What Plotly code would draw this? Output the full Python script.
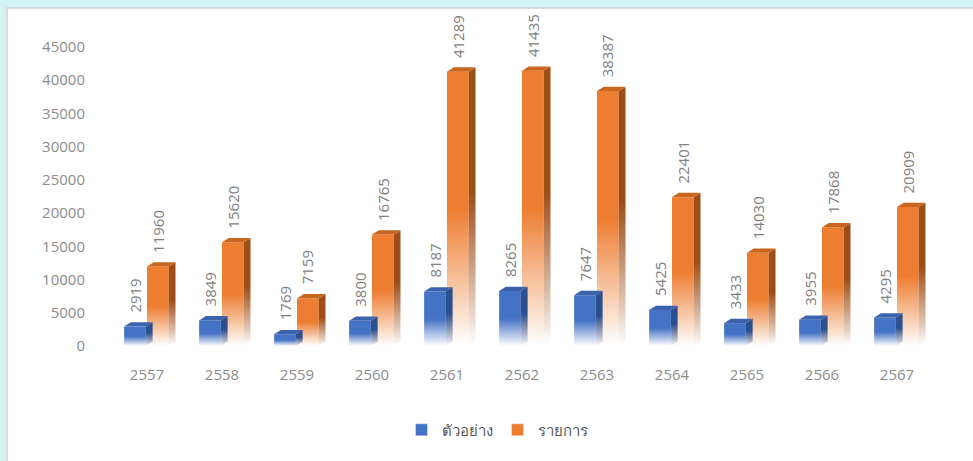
import plotly.graph_objects as go

# Yearly counts (Buddhist era years)
years = ["2557", "2558", "2559", "2560", "2561", "2562", "2563", "2564", "2565", "2566", "2567"]
samples = [2919, 3849, 1769, 3800, 8187, 8265, 7647, 5425, 3433, 3955, 4295]
items = [11960, 15620, 7159, 16765, 41289, 41435, 38387, 22401, 14030, 17868, 20909]
series_names = ["ตัวอย่าง", "รายการ"]
y_ticks = [0, 5000, 10000, 15000, 20000, 25000, 30000, 35000, 40000, 45000]

# pseudo-3D column geometry (category units / value units)
BAR_W = 0.29
DEPTH_X = 0.09
DEPTH_Y = 650

styles = {
    "ตัวอย่าง": dict(offset=-0.305, rgb=(68, 114, 196), side="#2c4f8f", top="#3a62ad"),
    "รายการ": dict(offset=0.0, rgb=(237, 125, 49), side="#9e4d17", top="#c9651f"),
}

W, H = 973, 461
L, R, T, B = 100, 40, 14, 115
PW, PH = W - L - R, H - T - B
X_RANGE = [-0.6267, -0.6267 + PW / 75.0]
Y_RANGE = [0, PH / 0.006644 * 1.0]


def fade_scale(rgb, full_at=0.5):
    r, g, b = rgb
    return [
        [0.0, f"rgba({r},{g},{b},0.0)"],
        [0.15, f"rgba({r},{g},{b},0.3)"],
        [full_at, f"rgba({r},{g},{b},1)"],
        [1.0, f"rgba({r},{g},{b},1)"],
    ]


def dark_scale(hex_color):
    h = hex_color.lstrip("#")
    r, g, b = int(h[0:2], 16), int(h[2:4], 16), int(h[4:6], 16)
    return fade_scale((r, g, b), 0.55)


fig = go.Figure()

annotations = []
for name, values in [("รายการ", items), ("ตัวอย่าง", samples)]:
    st = styles[name]
    for i, v in enumerate(values):
        x0 = i + st["offset"]
        x1 = x0 + BAR_W
        # front face
        fig.add_trace(go.Scatter(
            x=[x0, x1, x1, x0, x0], y=[0, 0, v, v, 0],
            mode="lines", line=dict(width=0), fill="toself",
            fillgradient=dict(type="vertical", colorscale=fade_scale(st["rgb"])),
            hoverinfo="skip", showlegend=False,
        ))
        # side face
        fig.add_trace(go.Scatter(
            x=[x1, x1 + DEPTH_X, x1 + DEPTH_X, x1, x1],
            y=[0, DEPTH_Y, v + DEPTH_Y, v, 0],
            mode="lines", line=dict(width=0), fill="toself",
            fillgradient=dict(type="vertical", colorscale=dark_scale(st["side"])),
            hoverinfo="skip", showlegend=False,
        ))
        # top face
        fig.add_trace(go.Scatter(
            x=[x0, x0 + DEPTH_X, x1 + DEPTH_X, x1, x0],
            y=[v, v + DEPTH_Y, v + DEPTH_Y, v, v],
            mode="lines", line=dict(width=0), fill="toself", fillcolor=st["top"],
            hoverinfo="skip", showlegend=False,
        ))
        annotations.append(dict(
            x=(x0 + x1) / 2, y=v, xref="x", yref="y",
            text=str(v), textangle=-90, showarrow=False,
            xanchor="center", yanchor="bottom", yshift=12,
            font=dict(family="Open Sans", size=15, color="#7f7f7f"),
        ))

# legend entries
for name in series_names:
    r, g, b = styles[name]["rgb"]
    fig.add_trace(go.Bar(x=[None], y=[None], name=name,
                         marker=dict(color=f"rgb({r},{g},{b})")))

def px_x(p):
    return (p - L) / PW


def px_y(p):
    return (H - B - p) / PH


shapes = [dict(
    type="rect", xref="paper", yref="paper", layer="below",
    x0=px_x(7), x1=px_x(W + 10), y0=px_y(H + 10), y1=px_y(8),
    fillcolor="white", line=dict(color="#d2d2d2", width=1.5),
)]

fig.update_layout(
    width=W, height=H,
    margin=dict(l=L, r=R, t=T, b=B),
    paper_bgcolor="#d3f3f5",
    plot_bgcolor="rgba(0,0,0,0)",
    shapes=shapes,
    annotations=annotations,
    showlegend=True,
    legend=dict(
        orientation="h", x=px_x(497), y=px_y(430),
        xanchor="center", yanchor="middle",
        font=dict(family="Open Sans, Noto Sans, sans-serif", size=15, color="#595959"),
        bgcolor="rgba(0,0,0,0)", itemwidth=30,
    ),
    xaxis=dict(
        range=X_RANGE, tickmode="array", tickvals=list(range(len(years))),
        ticktext=years, showgrid=False, zeroline=False, showline=False,
        ticks="", ticklabelstandoff=18,
        tickfont=dict(family="Open Sans", size=15, color="#8c8c8c"),
    ),
    yaxis=dict(
        range=Y_RANGE, tickmode="array", tickvals=y_ticks,
        ticktext=[str(t) for t in y_ticks], showgrid=False, zeroline=False,
        showline=False, ticks="", ticklabelstandoff=14,
        tickfont=dict(family="Open Sans", size=15, color="#8c8c8c"),
    ),
)

fig.write_html("out.html")
